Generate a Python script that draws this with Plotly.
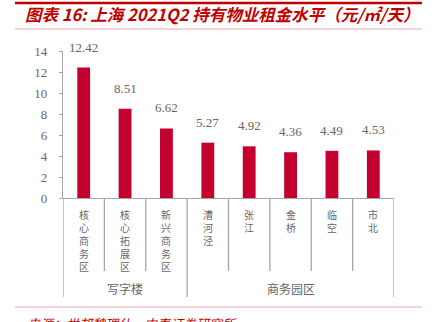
import plotly.graph_objects as go

# Shanghai 2021Q2 rents of held properties (yuan / m² / day)
categories = ["核心商务区", "核心拓展区", "新兴商务区", "漕河泾", "张江", "金桥", "临空", "市北"]
rents = [12.42, 8.51, 6.62, 5.27, 4.92, 4.36, 4.49, 4.53]
groups = ["写字楼", "写字楼", "写字楼", "商务园区", "商务园区", "商务园区", "商务园区", "商务园区"]
y_ticks = [0, 2, 4, 6, 8, 10, 12, 14]

W, H = 432, 322
ML, MR, MT, MB = 63, 38, 51, 124
PW, PH = W - ML - MR, H - MT - MB

BAR = "#C4002F"
GRID = "#A6A6A6"
TXT = "#666666"
SERIF = "'Times New Roman', 'Liberation Serif', serif"
CJK = "Noto Sans CJK SC"


def px_x(px):
    return (px - ML) / PW


def px_y(py):
    return (H - MB - py) / PH


xs = list(range(len(categories)))

fig = go.Figure(
    go.Bar(x=xs, y=rents, width=0.31, marker=dict(color=BAR, line=dict(width=0)),
           hoverinfo="skip")
)

annotations = []
shapes = []

# value labels above bars
for x, v in zip(xs, rents):
    annotations.append(dict(x=x, y=v, xref="x", yref="y", text=f"{v:.2f}",
                            showarrow=False, yanchor="bottom", yshift=11,
                            font=dict(family=SERIF, size=13, color=TXT)))

# vertical category labels, one character per line
for x, name in zip(xs, categories):
    annotations.append(dict(x=x, y=0, xref="x", yref="paper", text="<br>".join(name),
                            showarrow=False, yanchor="top", yshift=-7,
                            font=dict(family=CJK, size=10, color=TXT)))

# category separators (short) and group separators (long)
short_y = px_y(271)
long_y = px_y(297)
boundaries = [0] + [i for i in range(1, len(groups)) if groups[i] != groups[i - 1]] + [len(groups)]
for i in range(len(categories) + 1):
    y1 = long_y if i in boundaries else short_y
    shapes.append(dict(type="line", xref="x", yref="paper", x0=i - 0.5, x1=i - 0.5,
                       y0=0, y1=y1, line=dict(color=GRID, width=1.3)))

# group labels
for a, b in zip(boundaries[:-1], boundaries[1:]):
    annotations.append(dict(x=(a + b - 1) / 2, y=0, xref="x", yref="paper",
                            text=groups[a], showarrow=False, yanchor="middle",
                            yshift=-(288 - (H - MB)),
                            font=dict(family=CJK, size=12, color=TXT)))

# header / footer rules
shapes.append(dict(type="line", xref="paper", yref="paper", x0=px_x(15), x1=px_x(422),
                   y0=px_y(3), y1=px_y(3), line=dict(color="#C00000", width=2.5)))
shapes.append(dict(type="line", xref="paper", yref="paper", x0=px_x(15), x1=px_x(422),
                   y0=px_y(29), y1=px_y(29), line=dict(color="#EBA9B0", width=1)))
shapes.append(dict(type="line", xref="paper", yref="paper", x0=px_x(15), x1=px_x(422),
                   y0=px_y(307), y1=px_y(307), line=dict(color="#EBA9B0", width=1)))

# source line
annotations.append(dict(x=px_x(25), y=px_y(312), xref="paper", yref="paper",
                        xanchor="left", yanchor="top", showarrow=False,
                        text="来源：世邦魏理仕，中泰证券研究所",
                        font=dict(family=CJK, size=13, color="#C00000", style="italic")))

fig.update_layout(
    width=W, height=H,
    margin=dict(l=ML, r=MR, t=MT, b=MB),
    paper_bgcolor="white", plot_bgcolor="white",
    showlegend=False,
    title=dict(text="<b>图表 16: 上海 2021Q2 持有物业租金水平（元/㎡/天）</b>",
               x=25 / W, xanchor="left", xref="container",
               y=1 - 15 / H, yanchor="middle", yref="container",
               font=dict(family=CJK, size=16.5, color="#C00000", style="italic")),
    xaxis=dict(range=[-0.5, len(categories) - 0.5], showticklabels=False, ticks="",
               showline=True, linecolor=GRID, linewidth=1.3, showgrid=False,
               zeroline=False, fixedrange=True),
    yaxis=dict(range=[0, 14], tickvals=y_ticks, ticks="outside", ticklen=3,
               tickcolor=GRID, tickwidth=1.3, showline=True, linecolor=GRID,
               linewidth=1.3, showgrid=False, zeroline=False, ticklabelstandoff=9,
               tickfont=dict(family=SERIF, size=13, color=TXT), fixedrange=True),
    annotations=annotations,
    shapes=shapes,
)

fig.write_html("out.html")
